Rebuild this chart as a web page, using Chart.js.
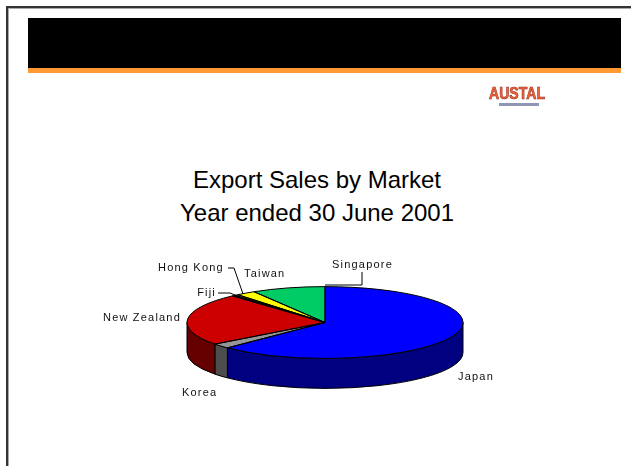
<!DOCTYPE html>
<html>
<head>
<meta charset="utf-8">
<script src="https://cdn.jsdelivr.net/npm/chart.js@4/dist/chart.umd.min.js"></script>
<style>
  html, body { margin: 0; padding: 0; background: #fff; }
  #slide { position: relative; width: 631px; height: 466px; overflow: hidden; font-family: Arial, "Liberation Sans", sans-serif; }
  #frame { position: absolute; left: 6px; top: 6px; width: 700px; height: 520px; border-top: 2px solid #333; border-left: 2px solid #333; box-shadow: inset 1px 1px 0 #aaa; }
  #bar { position: absolute; left: 28px; top: 18px; width: 593px; height: 50px; background: #000; }
  #stripe { position: absolute; left: 28px; top: 68px; width: 593px; height: 5px; background: #ff9933; }
  #logo { position: absolute; left: 489px; top: 86px; width: 62px; height: 22px; filter: blur(0.7px); }
  #logo .name { font: bold 16px Arial, sans-serif; color: #f0643c; -webkit-text-stroke: 0.6px #9a2a18; line-height: 15px; transform: scaleX(0.88); transform-origin: left top; white-space: nowrap; }
  #logo .tag { margin: 2px 0 0 10px; width: 40px; height: 3px; background: #9096b4; }
  .title { position: absolute; left: 0; width: 634px; text-align: center; font-size: 24px; color: #000; }
  #t1 { top: 166px; }
  #t2 { top: 199px; }
  #pie { position: absolute; left: 0; top: 0; }
</style>
</head>
<body>
<div id="slide">
  <div id="frame"></div>
  <div id="bar"></div>
  <div id="stripe"></div>
  <div id="logo"><div class="name">AUSTAL</div><div class="tag"></div></div>
  <div class="title" id="t1">Export Sales by Market</div>
  <div class="title" id="t2">Year ended 30 June 2001</div>
  <canvas id="pie" width="631" height="466"></canvas>
</div>
<script>
// share of export sales, % (clockwise from 12 o'clock)
const markets = ['Japan', 'Korea', 'New Zealand', 'Fiji', 'Hong Kong', 'Taiwan', 'Singapore'];
const sharePct = [62.5, 2.2, 23.6, 0.4, 0.4, 2.3, 8.6];

const topColours  = ['#0000ff', '#969696', '#cc0000', '#800000', '#ffff99', '#ffff00', '#00cc66'];
const sideColours = ['#000080', '#4d4d4d', '#660000', '#400000', '#999966', '#999900', '#006633'];

const tilt = 0.26;   // vertical squash of the top face
const depth = 30;    // wall height in px

// where each label sits; leader = polyline from label to the slice
const labelLayout = {
  'Japan':       { x: 458, y: 377, align: 'left' },
  'Korea':       { x: 182, y: 393, align: 'left' },
  'New Zealand': { x: 181, y: 318, align: 'right' },
  'Fiji':        { x: 216, y: 293, align: 'right', leader: [[218, 293], [230, 293], [240, 297]] },
  'Hong Kong':   { x: 158, y: 268, align: 'left',  leader: [[228, 268], [234, 268], [243, 294]] },
  'Taiwan':      { x: 244, y: 274, align: 'left' },
  'Singapore':   { x: 332, y: 265, align: 'left',  leader: [[362, 272], [362, 285], [325, 285]] }
};

// parts of [s, e] that face the viewer (lower half of the ellipse)
function frontSegments(s, e) {
  const out = [];
  for (let n = -1; n <= 1; n++) {
    const a0 = Math.max(s, 2 * Math.PI * n);
    const a1 = Math.min(e, 2 * Math.PI * n + Math.PI);
    if (a1 > a0) out.push([a0, a1]);
  }
  return out;
}

const pie3d = {
  id: 'pie3d',
  beforeDatasetsDraw(chart) {
    const ctx = chart.ctx;
    const arcs = chart.getDatasetMeta(0).data;
    const { x: cx, y: cy, outerRadius: r } = arcs[0].getProps(['x', 'y', 'outerRadius']);
    const ry = r * tilt;

    // side walls
    ctx.save();
    ctx.lineWidth = 1;
    ctx.strokeStyle = '#000';
    arcs.forEach((arc, i) => {
      const { startAngle, endAngle } = arc.getProps(['startAngle', 'endAngle']);
      frontSegments(startAngle, endAngle).forEach(([a0, a1]) => {
        ctx.beginPath();
        ctx.ellipse(cx, cy, r, ry, 0, a0, a1);
        ctx.lineTo(cx + r * Math.cos(a1), cy + ry * Math.sin(a1) + depth);
        ctx.ellipse(cx, cy + depth, r, ry, 0, a1, a0, true);
        ctx.closePath();
        ctx.fillStyle = sideColours[i];
        ctx.fill();
        ctx.stroke();
      });
    });
    ctx.restore();

    // squash the pie itself into the top face
    ctx.save();
    ctx.translate(cx, cy);
    ctx.scale(1, tilt);
    ctx.translate(-cx, -cy);
  },
  afterDatasetsDraw(chart) {
    const ctx = chart.ctx;
    ctx.restore();
    const arcs = chart.getDatasetMeta(0).data;
    const { x: cx, y: cy, outerRadius: r } = arcs[0].getProps(['x', 'y', 'outerRadius']);
    const ry = r * tilt;

    ctx.save();
    ctx.lineWidth = 1;
    ctx.strokeStyle = '#000';
    arcs.forEach(arc => {
      const { startAngle, endAngle } = arc.getProps(['startAngle', 'endAngle']);
      ctx.beginPath();
      ctx.moveTo(cx, cy);
      ctx.ellipse(cx, cy, r, ry, 0, startAngle, endAngle);
      ctx.closePath();
      ctx.stroke();
    });

    // labels and leader lines
    ctx.font = '11px Arial, "Liberation Sans", sans-serif';
    ctx.letterSpacing = '1.2px';
    ctx.fillStyle = '#111';
    ctx.textBaseline = 'middle';
    chart.data.labels.forEach(name => {
      const l = labelLayout[name];
      ctx.textAlign = l.align;
      ctx.fillText(name, l.x, l.y);
      if (l.leader) {
        ctx.beginPath();
        l.leader.forEach(([px, py], j) => j ? ctx.lineTo(px, py) : ctx.moveTo(px, py));
        ctx.stroke();
      }
    });
    ctx.restore();
  }
};

new Chart(document.getElementById('pie'), {
  type: 'pie',
  data: {
    labels: markets,
    datasets: [{
      data: sharePct,
      backgroundColor: topColours,
      borderWidth: 0,
      offset: 0,
      hoverOffset: 0,
      clip: false
    }]
  },
  options: {
    responsive: false,
    animation: false,
    events: [],
    layout: { padding: { left: 187, right: 168, top: 184.5, bottom: 5.5 } },
    plugins: {
      legend: { display: false },
      tooltip: { enabled: false }
    }
  },
  plugins: [pie3d]
});
</script>
</body>
</html>
